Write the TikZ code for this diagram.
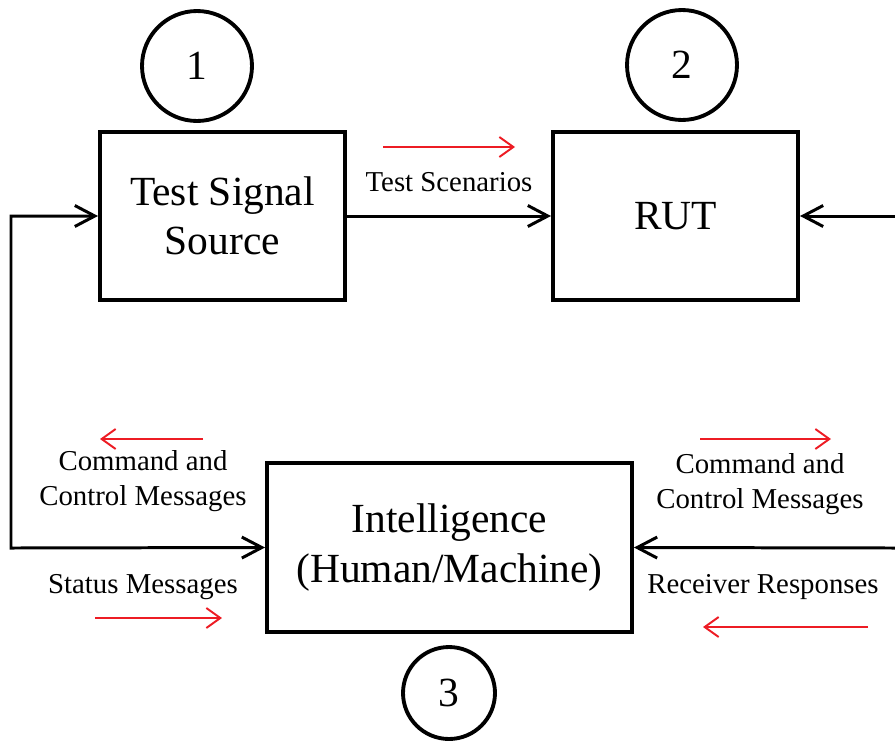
\documentclass[tikz,border=0pt]{standalone}
\usepackage{fontspec}
\setmainfont{Liberation Serif}
\usetikzlibrary{arrows.meta}
\definecolor{flowred}{RGB}{237,28,36}
\begin{document}
\begin{tikzpicture}[x=0.02cm,y=-0.02cm,
		block/.style={draw,line width=2.3pt,rectangle,minimum width=4.9cm,minimum height=3.36cm,
			align=center,font=\fontsize{23.6}{28}\selectfont},
		tag/.style={draw,line width=2.2pt,circle,inner sep=0pt,font=\fontsize{23.6}{28}\selectfont},
		lab/.style={align=center,inner sep=1pt,font=\fontsize{16.4}{19.5}\selectfont},
		conn/.style={line width=1.7pt,-{Straight Barb[length=0.4cm,width=0.42cm]}},
		twoway/.style={line width=1.7pt,line join=miter,
			{Straight Barb[length=0.4cm,width=0.42cm]}-{Straight Barb[length=0.4cm,width=0.42cm]}},
		flow/.style={flowred,line width=1.1pt,-{Straight Barb[length=0.28cm,width=0.4cm]}}]
		
		\useasboundingbox (0,0) rectangle (895,741);
		
		\node[block] (tss) at (222.5,216) {Test Signal\\Source};
		\node[block] (rut) at (675.5,216) {RUT};
		\node[block,minimum width=7.3cm,minimum height=3.38cm] (intel) at (449.5,547.5) {Intelligence\\(Human/Machine)};
		
		\node[tag,minimum size=2.2cm] (c1) at (197,66) {1};
		\node[tag,minimum size=2.2cm] (c2) at (682,65) {2};
		\node[tag,minimum size=1.84cm] (c3) at (449,693) {3};
		
		\draw[conn] (tss.east) -- (rut.west);
		\coordinate (lb) at (11,548);
		\draw[twoway] (intel.west) -- (lb) |- (tss.west);
		\coordinate (rt) at (895,216);
		\coordinate (rb) at (895,548);
		\draw[conn] (rt) -- (rut.east);
		\draw[conn] (rb) -- (intel.east);
		
		\node[lab] (scen) at (449,182) {Test Scenarios};
		\node[lab] (lcmd) at (143,481) {Command and\\Control Messages};
		\node[lab] (lstat) at (143,587) {Status Messages};
		\node[lab] (rcmd) at (760,484) {Command and\\Control Messages};
		\node[lab] (rresp) at (763,587) {Receiver Responses};
		
		\coordinate (s1) at (383,147);
		\coordinate (s2) at (515,147);
		\draw[flow] (s1) -- (s2);
		\coordinate (lc1) at (203,439);
		\coordinate (lc2) at (100,439);
		\draw[flow] (lc1) -- (lc2);
		\coordinate (ls1) at (95,618);
		\coordinate (ls2) at (222,618);
		\draw[flow] (ls1) -- (ls2);
		\coordinate (rc1) at (700,439);
		\coordinate (rc2) at (831,439);
		\draw[flow] (rc1) -- (rc2);
		\coordinate (rr1) at (868,627);
		\coordinate (rr2) at (703,627);
		\draw[flow] (rr1) -- (rr2);
		\end{tikzpicture}
\end{document}
